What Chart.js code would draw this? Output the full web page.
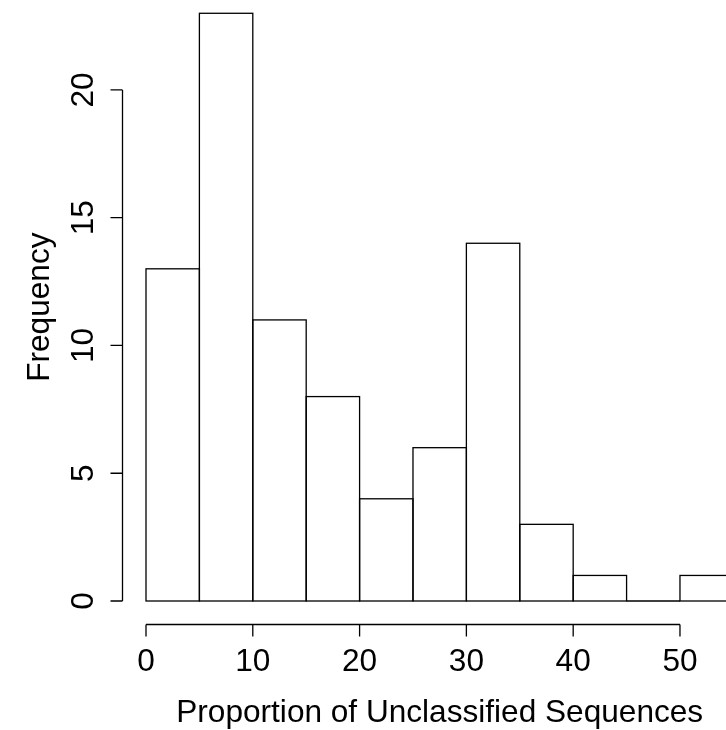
<!DOCTYPE html>
<html>
<head>
<meta charset="utf-8">
<script src="https://cdn.jsdelivr.net/npm/chart.js@4.4.1/dist/chart.umd.min.js"></script>
<style>
  html, body { margin: 0; padding: 0; background: #ffffff; }
  canvas { display: block; }
</style>
</head>
<body>
<canvas id="hist" width="726" height="730"></canvas>
<script>
// histogram bins (breaks) and counts
const binEdges = [0, 5, 10, 15, 20, 25, 30, 35, 40, 45, 50, 55];
const counts = [13, 23, 11, 8, 4, 6, 14, 3, 1, 0, 1];
const xTicks = [0, 10, 20, 30, 40, 50];
const yTicks = [0, 5, 10, 15, 20];
const xTitle = 'Proportion of Unclassified Sequences';
const yTitle = 'Frequency';

const FONT = '31.6px "Liberation Sans", Arial, Helvetica, sans-serif';

document.addEventListener('DOMContentLoaded', () => {
    const points = counts.map((c, i) => ({ x: (binEdges[i] + binEdges[i + 1]) / 2, y: c }));

    // outline bars like R's rect() instead of Chart.js inset borders
    const outlinePlugin = {
        id: 'outline',
        afterDatasetsDraw: (chart) => {
            const { ctx } = chart;
            const meta = chart.getDatasetMeta(0);
            ctx.save();
            ctx.strokeStyle = '#000000';
            ctx.lineWidth = 1.3;
            meta.data.forEach(bar => {
                const left = bar.x - bar.width / 2;
                ctx.strokeRect(left, bar.y, bar.width, bar.base - bar.y);
            });
            ctx.restore();
        }
    };

    // R style detached axes
    const axesPlugin = {
        id: 'rAxes',
        afterDraw: (chart) => {
            const { ctx } = chart;
            const xs = chart.scales.x;
            const ys = chart.scales.y;
            const xr = binEdges[binEdges.length - 1] - binEdges[0];
            const yr = Math.max(...counts);
            const axisX = xs.getPixelForValue(binEdges[0] - 0.04 * xr);
            const axisY = ys.getPixelForValue(-0.04 * yr);
            const tickLen = 12;

            ctx.save();
            ctx.strokeStyle = '#000000';
            ctx.fillStyle = '#000000';
            ctx.lineWidth = 1.3;
            ctx.font = FONT;

            // x axis
            ctx.beginPath();
            ctx.moveTo(xs.getPixelForValue(xTicks[0]), axisY);
            ctx.lineTo(xs.getPixelForValue(xTicks[xTicks.length - 1]), axisY);
            xTicks.forEach(t => {
                const px = xs.getPixelForValue(t);
                ctx.moveTo(px, axisY);
                ctx.lineTo(px, axisY + tickLen);
            });
            ctx.stroke();
            ctx.textAlign = 'center';
            ctx.textBaseline = 'alphabetic';
            xTicks.forEach(t => {
                ctx.fillText(String(t), xs.getPixelForValue(t), axisY + 46);
            });

            // y axis
            ctx.beginPath();
            ctx.moveTo(axisX, ys.getPixelForValue(yTicks[0]));
            ctx.lineTo(axisX, ys.getPixelForValue(yTicks[yTicks.length - 1]));
            yTicks.forEach(t => {
                const py = ys.getPixelForValue(t);
                ctx.moveTo(axisX, py);
                ctx.lineTo(axisX - tickLen, py);
            });
            ctx.stroke();
            yTicks.forEach(t => {
                ctx.save();
                ctx.translate(axisX - 30, ys.getPixelForValue(t));
                ctx.rotate(-Math.PI / 2);
                ctx.fillText(String(t), 0, 0);
                ctx.restore();
            });

            // titles
            const plotLeft = axisX;
            const plotRight = xs.getPixelForValue(binEdges[binEdges.length - 1] + 0.04 * xr);
            ctx.fillText(xTitle, (plotLeft + plotRight) / 2, axisY + 97);

            const plotTop = ys.getPixelForValue(yr * 1.04);
            ctx.save();
            ctx.translate(axisX - 74, (plotTop + axisY) / 2);
            ctx.rotate(-Math.PI / 2);
            ctx.fillText(yTitle, 0, 0);
            ctx.restore();

            ctx.restore();
        }
    };

    new Chart(document.getElementById('hist').getContext('2d'), {
        type: 'bar',
        data: {
            datasets: [{
                data: points,
                backgroundColor: '#ffffff',
                borderWidth: 0,
                barPercentage: 1,
                categoryPercentage: 1
            }]
        },
        options: {
            responsive: false,
            animation: false,
            events: [],
            layout: {
                padding: { left: 146, right: 0, top: 0, bottom: 129 }
            },
            plugins: {
                legend: { display: false },
                tooltip: { enabled: false }
            },
            scales: {
                x: {
                    type: 'linear',
                    display: false,
                    offset: false,
                    grid: { offset: false },
                    min: 0,
                    max: 54.31
                },
                y: {
                    display: false,
                    min: 0,
                    max: 23.52
                }
            }
        },
        plugins: [outlinePlugin, axesPlugin]
    });
});
</script>
</body>
</html>
